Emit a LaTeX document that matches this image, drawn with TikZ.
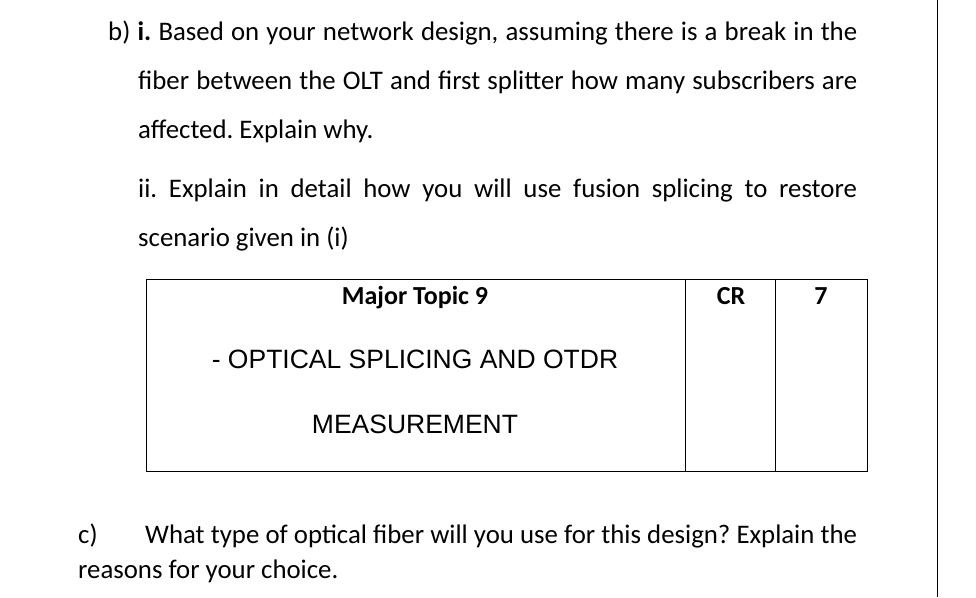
\documentclass[tikz,border=0pt]{standalone}
\usepackage{fontspec}
\setmainfont{Carlito}
\newfontfamily\arialf{Liberation Sans}
\frenchspacing
\begin{document}
\begin{tikzpicture}[x=1pt,y=-1pt,
 txt/.style={anchor=base west,inner sep=0,font=\fontsize{26.8}{30}\selectfont},
 tab/.style={anchor=base,inner sep=0,font=\fontsize{26}{30}\selectfont\bfseries},
 ar/.style={anchor=base,inner sep=0,font=\arialf\fontsize{26.5}{30}\selectfont}]
\useasboundingbox (0,0) rectangle (976,597);
\node[txt] (l1) at (108,40) {\makebox[749pt][s]{b) \textbf{i.} Based on your network design, assuming there is a break in the}};
\node[txt] (l2) at (138,89) {\makebox[719pt][s]{fiber between the OLT and first splitter how many subscribers are}};
\node[txt] (l3) at (138,138) {affected. Explain why.};
\node[txt] (l4) at (138,197) {\makebox[719pt][s]{ii. Explain in detail how you will use fusion splicing to restore}};
\node[txt] (l5) at (138,246) {scenario given in (i)};
\draw[line width=1pt] (146,279) rectangle (867,471);
\draw[line width=1pt] (685,279) -- (685,471) (775,279) -- (775,471);
\node[tab] (mt) at (415,304) {Major Topic 9};
\node[tab] (cr) at (731,304) {CR};
\node[tab] (sv) at (821,304) {7};
\node[ar] (o1) at (415,368) {- OPTICAL SPLICING AND OTDR};
\node[ar] (o2) at (415,433) {MEASUREMENT};
\node[txt] (c1) at (78,543) {c)};
\node[txt] (c2) at (145,543) {\makebox[712pt][s]{What type of optical fiber will you use for this design? Explain the}};
\node[txt] (c3) at (78,578) {reasons for your choice.};
\draw[line width=1pt] (937,0) -- (937,597);
\end{tikzpicture}
\end{document}
